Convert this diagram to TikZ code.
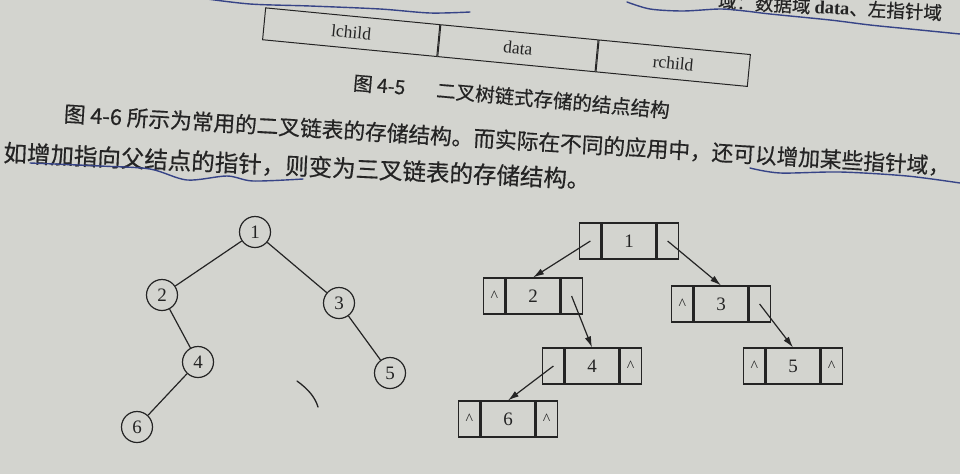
\documentclass[tikz,border=0pt]{standalone}
\usepackage{fontspec}
\setmainfont{Liberation Serif}
\newfontfamily\cjk{Noto Sans CJK SC}[FakeBold=0.5]
\usetikzlibrary{arrows.meta}
\definecolor{paper}{RGB}{211,212,207}
\definecolor{ink}{RGB}{36,36,36}
\definecolor{pen}{RGB}{55,68,135}
\newcommand\fsz[1]{\fontsize{#1}{#1}\selectfont}
% linked-list node: name, x, y, left, data, right
\newcommand\lbox[6]{%
  \node[dcell] (#1) at (#2,#3) {#5};
  \node[pcell, anchor=east] (#1l) at (#1.west) {#4};
  \node[pcell, anchor=west] (#1r) at (#1.east) {#6};
}
\newcommand\nil{\fsz{16}\textasciicircum}
\tikzset{
  cell/.style={draw=ink, line width=1.1pt, inner sep=0pt, minimum height=36pt, text=ink},
  pcell/.style={cell, minimum width=21pt},
  dcell/.style={cell, minimum width=54pt, font=\fsz{19}},
  topcell/.style={draw=ink, line width=1pt, inner sep=0pt, minimum height=32pt, text=ink, font=\fsz{17.5}},
  tnode/.style={circle, draw=ink, line width=1.2pt, minimum size=31pt, inner sep=0pt, text=ink, font=\fsz{19}},
  tedge/.style={draw=ink, line width=1.2pt},
  parrow/.style={draw=ink, line width=1.2pt, -{Latex[length=11pt,width=6.5pt]}},
  cjktext/.style={text=ink, inner sep=0pt, font=\cjk},
  penline/.style={draw=pen, line width=1.4pt, line cap=round},
}
\begin{document}
\begin{tikzpicture}[x=1pt,y=-1pt]
\useasboundingbox (0,0) rectangle (960,474);
\fill[paper] (0,0) rectangle (960,474);
\clip (0,0) rectangle (960,474);

% ---- Figure 4-5: node structure (tilted as in the photo)
\begin{scope}[rotate around={-5.5:(505,47)}, transform shape]
  \node[topcell, minimum width=175pt] (lc) at (350.5,47) {lchild};
  \node[topcell, minimum width=158pt, anchor=west] (dc) at (lc.east) {data};
  \node[topcell, minimum width=152pt, anchor=west] (rc) at (dc.east) {rchild};
\end{scope}

\node[cjktext, rotate=-5, font=\cjk\fsz{19.5}] (cap) at (511.5,96.5)
  {图 4-5\hspace{1.6em}二叉树链式存储的结点结构};

\node[cjktext, rotate=-3, font=\cjk\fsz{18.5}] (top) at (830,7)
  {域：数据域 {\rmfamily\bfseries data}、左指针域};

\node[cjktext, rotate=-3.4, font=\cjk\fsz{21.7}] (line1) at (507,140)
  {图 4-6 所示为常用的二叉链表的存储结构。而实际在不同的应用中，还可以增加某些指针域，};
\node[cjktext, rotate=-2.6, font=\cjk\fsz{23.5}] (line2) at (297,166)
  {如增加指向父结点的指针，则变为三叉链表的存储结构。};

% ---- pen marks
\draw[penline] plot[smooth] coordinates {(200,-2) (250,4) (310,6) (380,9) (430,13) (470,12)};
\draw[penline] plot[smooth] coordinates {(627,2) (650,9) (683,11) (720,9) (745,11) (770,14) (830,20) (870,25) (910,29) (960,34)};
\draw[penline] plot[smooth] coordinates {(30,163) (100,166) (150,169) (187,180) (227,176) (253,181) (303,179)};
\draw[penline] plot[smooth] coordinates {(750,168) (780,173) (840,172) (907,176) (960,183)};
\draw[ink, line width=1.3pt, line cap=round] (297,381) .. controls (308,389) and (315,397) .. (318,407);

% ---- binary tree
\node[tnode] (n1) at (255,232) {1};
\node[tnode] (n2) at (162,295) {2};
\node[tnode] (n3) at (339,303) {3};
\node[tnode] (n4) at (198,362) {4};
\node[tnode] (n5) at (390,373) {5};
\node[tnode] (n6) at (137,427) {6};
\draw[tedge] (n1) -- (n2);
\draw[tedge] (n1) -- (n3);
\draw[tedge] (n2) -- (n4);
\draw[tedge] (n3) -- (n5);
\draw[tedge] (n4) -- (n6);

% ---- binary linked list
\lbox{b1}{629}{241}{}{1}{}
\lbox{b2}{533}{296}{\nil}{2}{}
\lbox{b3}{721}{304}{\nil}{3}{}
\lbox{b4}{592}{366}{}{4}{\nil}
\lbox{b5}{793}{366}{\nil}{5}{\nil}
\lbox{b6}{508}{419}{\nil}{6}{\nil}
\draw[parrow] (b1l.center) -- (b2.north);
\draw[parrow] (b1r.center) -- (b3.north);
\draw[parrow] (b2r.center) -- (b4.north);
\draw[parrow] (b3r.center) -- (b5.north);
\draw[parrow] (b4l.center) -- (b6.north);
\end{tikzpicture}
\end{document}
